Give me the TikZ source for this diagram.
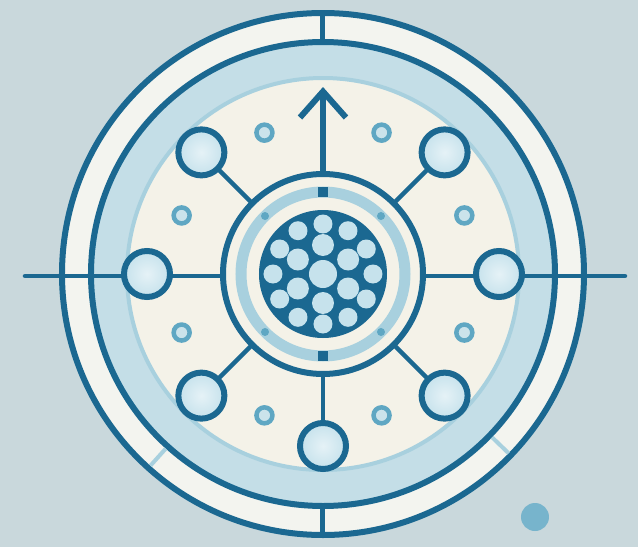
\documentclass[tikz,border=0pt]{standalone}
\usepackage{tikz}
\usetikzlibrary{arrows.meta,positioning,shapes.geometric}
\definecolor{bgblue}{HTML}{C9D8DC}
\definecolor{ink}{HTML}{1B6891}
\definecolor{ringwhite}{HTML}{F3F4EF}
\definecolor{paleblue}{HTML}{C4DEE7}
\definecolor{cream}{HTML}{F4F2E8}
\definecolor{edgeblue}{HTML}{A8D0DE}
\definecolor{bubble}{HTML}{C6E2EC}
\definecolor{dotblue}{HTML}{5FA7C3}

\begin{document}
\begin{tikzpicture}[
    x=1pt, y=1pt,
    ring/.style={draw=ink, line width=6pt},
    sat/.style={circle, draw=ink, line width=6pt, minimum size=46pt, inner sep=0pt, inner color=white!55!bubble, outer color=bubble},
    hub/.style={circle, draw=ink, line width=6pt, fill=cream, minimum size=200pt, inner sep=0pt},
    hole/.style={circle, fill=bubble, inner sep=0pt},
    spoke/.style={draw=ink, line width=4.5pt, line cap=round},
    dot/.style={circle, draw=dotblue, line width=4.5pt, fill=edgeblue!60!white, minimum size=16pt, inner sep=0pt},
    arrow/.style={-{Straight Barb[length=26pt,width=46pt]}, draw=ink, line width=6pt, line cap=round, line join=round}
  ]
    \fill[bgblue] (-323,-273) rectangle (315,274);
    \useasboundingbox (-323,-273) rectangle (315,274);
    \coordinate (ctr) at (0,0);
    \coordinate (lend) at (-298,-2);
    \coordinate (rend) at (302,-2);
    \coordinate (tip) at (0,187);

    % outer rings and zones
    \fill[ringwhite] (ctr) circle (261);
    \fill[paleblue] (ctr) circle (232);
    \draw[ring] (ctr) circle (261);
    \draw[ring] (ctr) circle (232);
    \draw[ring, line width=5pt] (90:232) -- (90:261);
    \draw[ring, line width=5pt] (270:232) -- (270:261);
    \draw[edgeblue, line width=4pt] (316:235) -- (316:258);
    \draw[edgeblue, line width=4pt] (228:235) -- (228:258);
    \filldraw[fill=cream, draw=edgeblue, line width=4pt] (ctr) circle (196);
    \draw[spoke] (lend) -- (rend);

    % hub with honeycomb core
    \node[hub] (core) at (ctr) {};
    \draw[edgeblue, line width=11pt] (ctr) circle (82);
    \fill[ink] (90:82) +(-5,-5) rectangle +(5,5);
    \fill[ink] (270:82) +(-5,-5) rectangle +(5,5);
    \foreach \a in {45,135,225,315}
      \fill[dotblue] (\a:82) circle (4);
    \fill[ink] (ctr) circle (64);
    \node[hole, minimum size=28pt] at (ctr) {};
    \foreach \a in {30,90,...,330}
      \node[hole, minimum size=22pt] at (\a:29) {};
    \foreach \a in {0,30,...,330}
      \node[hole, minimum size=19pt] at (\a:50) {};

    % satellites
    \node[sat] (e) at (0:176) {};
    \node[sat] (ne) at (45:172) {};
    \node[sat] (nw) at (135:172) {};
    \node[sat] (w) at (180:176) {};
    \node[sat] (sw) at (225:172) {};
    \node[sat] (s) at (270:172) {};
    \node[sat] (se) at (315:172) {};
    \foreach \a in {22.5,67.5,...,337.5}
      \node[dot] at (\a:153) {};

    \draw[spoke] (core) -- (ne);
    \draw[spoke] (core) -- (nw);
    \draw[spoke] (core) -- (sw);
    \draw[spoke] (core) -- (s);
    \draw[spoke] (core) -- (se);
    \draw[arrow] (core.north) -- (tip);

    \node[circle, fill=dotblue!85!white, minimum size=28pt] (spot) at (212,-243) {};
  \end{tikzpicture}
\end{document}
